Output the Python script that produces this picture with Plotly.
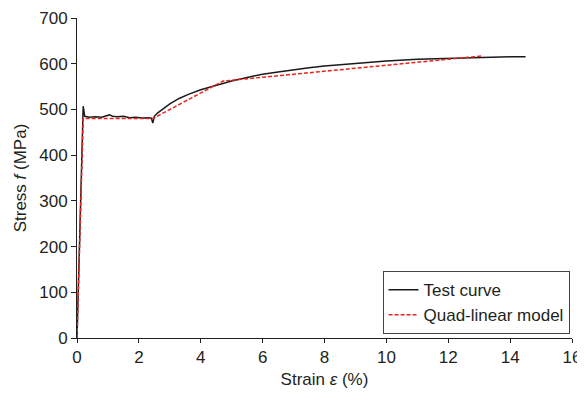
import plotly.graph_objects as go

# Test curve (strain %, stress MPa)
test_strain = [0, 0.1, 0.18, 0.2, 0.25, 0.4, 0.6, 0.8, 0.95, 1.05, 1.15, 1.3, 1.5, 1.7, 1.9, 2.1,
               2.3, 2.4, 2.45, 2.5, 2.6, 2.8, 3.0, 3.3, 3.6, 4.0, 4.5, 5.0, 5.5, 6.0, 6.5, 7.0,
               7.5, 8.0, 9.0, 10.0, 11.0, 12.0, 13.0, 14.0, 14.5]
test_stress = [0, 250, 480, 507, 485, 483, 484, 483, 486, 488, 485, 484, 485, 482, 483, 481,
               482, 481, 470, 485, 492, 503, 512, 524, 533, 543, 553, 562, 570, 577, 582, 587,
               591, 595, 601, 606, 610, 612, 614, 615, 615]

# Quad-linear model
model_strain = [0, 0.2, 2.45, 4.72, 13.1]
model_stress = [0, 480, 480, 562, 617]

fig = go.Figure()
fig.add_trace(go.Scatter(x=test_strain, y=test_stress, mode="lines", name="Test curve",
                         line=dict(color="#1a1a1a", width=1.5)))
fig.add_trace(go.Scatter(x=model_strain, y=model_stress, mode="lines", name="Quad-linear model",
                         line=dict(color="#e8241c", width=1.5, dash="4px,2px")))

font = "Liberation Sans, Arial, sans-serif"
fig.update_layout(
    width=577, height=385,
    margin=dict(l=69, r=13, t=10, b=55),
    paper_bgcolor="white", plot_bgcolor="white",
    font=dict(family=font, size=17, color="#231f20"),
    legend=dict(x=0.995, y=0.012, xanchor="right", yanchor="bottom",
                bgcolor="white", bordercolor="#444", borderwidth=1,
                font=dict(size=17), itemwidth=30, tracegroupgap=0),
    xaxis=dict(range=[0, 16], dtick=2, showline=True, linecolor="#231f20", linewidth=1,
               ticks="outside", ticklen=4, tickcolor="#231f20", showgrid=False, zeroline=False,
               automargin=False, tickfont=dict(size=17),
               title=dict(text="Strain <i>ε</i> (%)", standoff=6, font=dict(size=17))),
    yaxis=dict(range=[0, 700], dtick=100, showline=True, linecolor="#231f20", linewidth=1,
               ticks="outside", ticklen=5, tickcolor="#231f20", showgrid=False, zeroline=False,
               automargin=False, tickfont=dict(size=17),
               title=dict(text="Stress <i>f</i> (MPa)", standoff=8, font=dict(size=17))),
)
fig.write_html("out.html")
